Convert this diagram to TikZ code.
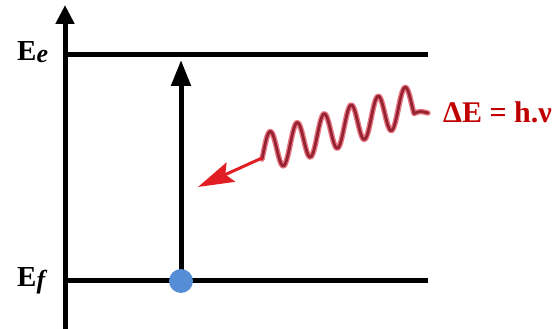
\documentclass[tikz,border=0pt]{standalone}
\usepackage{fontspec}
\setmainfont{Liberation Serif}
\usetikzlibrary{arrows.meta}
\definecolor{dotblue}{RGB}{85,142,213}
\definecolor{labelred}{RGB}{192,0,0}
\definecolor{wavered}{RGB}{150,35,50}
\definecolor{wavehalo}{RGB}{232,120,132}
\definecolor{tipred}{RGB}{225,30,35}

\begin{document}
\begin{tikzpicture}[x=1pt,y=-1pt,
  level/.style={line width=5pt},
  lbl/.style={font=\fontsize{29}{29}\selectfont\bfseries, inner sep=0pt, anchor=base west},
  ]
\useasboundingbox (0,0) rectangle (558,329);

% Levels and positions
\def\Ye{55}
\def\Yf{280}
\def\Xax{65}
\def\Xend{428}
\def\Xjump{181}

%---------------------------------------
% Energy axis
%---------------------------------------
\coordinate (axbot) at (\Xax,329);
\coordinate (axtop) at (\Xax,5);
\draw[line width=5pt, -{Triangle[length=19pt,width=18pt]}] (axbot) -- (axtop);

%---------------------------------------
% Energy levels
%---------------------------------------
\coordinate (ee0) at (\Xax,\Ye);
\coordinate (ee1) at (\Xend,\Ye);
\coordinate (ef0) at (\Xax,\Yf);
\coordinate (ef1) at (\Xend,\Yf);
\draw[level] (ee0) -- (ee1);
\draw[level] (ef0) -- (ef1);

\node[lbl] (Ee) at (17,61) {E\raisebox{-2pt}{\fontsize{26}{26}\selectfont\itshape e}};
\node[lbl] (Ef) at (17,286) {E\raisebox{-2pt}{\fontsize{26}{26}\selectfont\itshape f}};

%---------------------------------------
% Excitation of the electron
%---------------------------------------
\coordinate (ground) at (\Xjump,281);
\coordinate (excited) at (\Xjump,60);
\draw[line width=5pt, -{Triangle[length=26pt,width=19pt]}] (ground) -- (excited);
\node[circle, fill=dotblue, minimum size=24pt, inner sep=0pt] (electron) at (ground) {};

%---------------------------------------
% Absorbed photon
%---------------------------------------
\coordinate (wavestart) at (262,158);
\coordinate (wavetip) at (198,187);
\coordinate (waveend) at (428,113);
\foreach \col/\wd in {wavehalo/5.5pt, wavered/2.8pt}
  \draw[\col, line width=\wd, line join=round, line cap=round]
    plot[domain=262:414, samples=120, smooth]
      (\x, {145 - 0.327*(\x-288) - 19.5*cos(13.3333*(\x-270))})
    .. controls (420,111) .. (waveend);
\draw[tipred, line width=3pt, -{Stealth[length=36pt,width=21pt,inset=6pt]}] (wavestart) -- (wavetip);

\node[lbl, labelred, font=\fontsize{30}{30}\selectfont\bfseries] (dE) at (443,123) {ΔE = h.ν};

\end{tikzpicture}
\end{document}
